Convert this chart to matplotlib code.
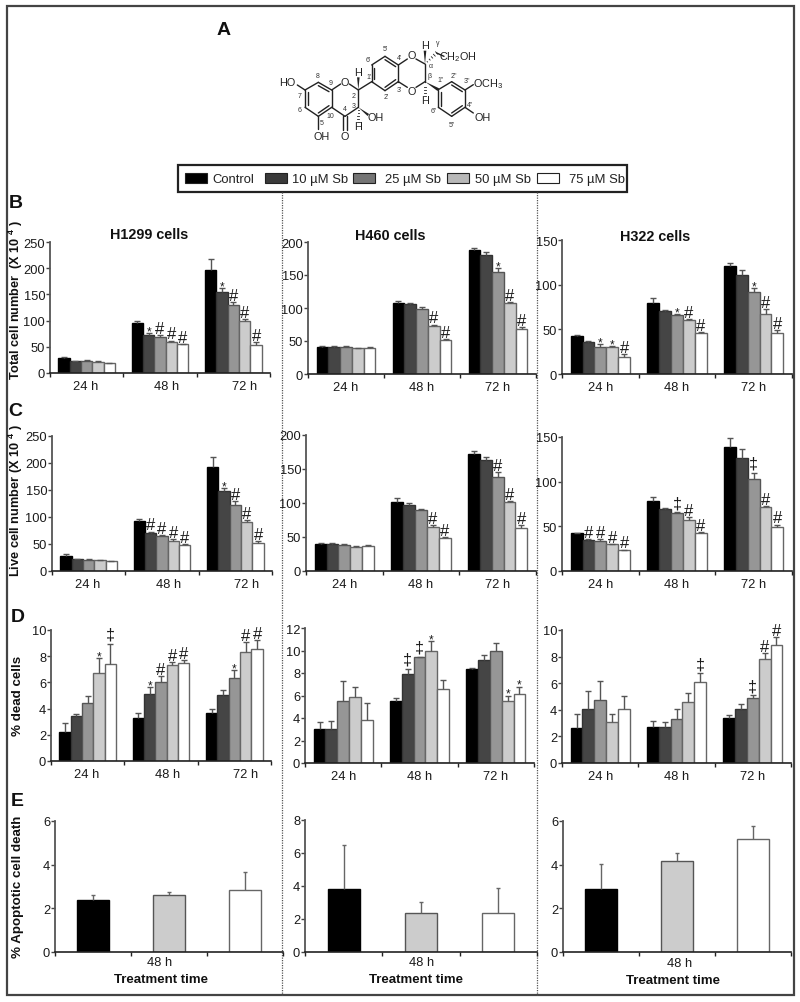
import matplotlib
matplotlib.use('Agg')
from matplotlib import pyplot as plt
from matplotlib.patches import Rectangle, Polygon

plt.rcParams['font.family'] = ['Liberation Sans', 'DejaVu Sans']
plt.rcParams['mathtext.fontset'] = 'custom'
plt.rcParams['mathtext.bf'] = 'Liberation Sans:bold'
plt.rcParams['mathtext.rm'] = 'Liberation Sans'
plt.rcParams['mathtext.default'] = 'regular'

W, H = 800, 1003

times = ['24 h', '48 h', '72 h']
doses = ['Control', '10 µM Sb', '25 µM Sb', '50 µM Sb', '75 µM Sb']
cells = ['H1299 cells', 'H460 cells', 'H322 cells']

# panel B, total cell number
b1_mean = [29, 22, 23, 21, 19, 95, 73, 69, 60, 55, 197, 155, 130, 99, 54]
b1_err = [1, 1, 1, 1, 1, 5, 4, 3, 2, 1, 20, 7, 6, 4, 5]
b1_mark = ['', '', '', '', '', '', '*', '#', '#', '#', '', '*', '#', '#', '#']
b2_mean = [41, 41, 41, 39, 39, 107, 106, 99, 73, 52, 188, 180, 154, 107, 68]
b2_err = [1, 1, 1, 1, 2, 4, 2, 2, 2, 1, 3, 5.5, 6, 1.5, 3]
b2_mark = ['', '', '', '', '', '', '', '', '#', '#', '', '', '*', '#', '#']
b3_mean = [43, 36, 30, 30, 19, 80, 70, 66, 60, 46, 121, 111, 92, 67, 46]
b3_err = [1, 1, 4, 1, 3, 5, 2, 1, 2, 1, 3, 5, 4, 5.5, 3]
b3_mark = ['', '', '*', '*', '#', '', '', '*', '#', '#', '', '', '*', '#', '#']

# panel C, live cell number
c1_mean = [27, 22, 21, 20, 18, 93, 70, 64, 56, 49, 192, 148, 123, 91, 51]
c1_err = [4, 1, 2, 1, 1, 3, 3, 2, 3, 1, 20, 5, 6, 4, 4]
c1_mark = ['', '', '', '', '', '', '#', '#', '#', '#', '', '*', '#', '#', '#']
c2_mean = [40, 40, 38, 36, 37, 102, 97, 89, 65, 48, 172, 163, 138, 101, 63]
c2_err = [1, 1, 1, 1, 1, 5, 2.5, 1.5, 3, 1.5, 4, 4.5, 7, 1.5, 4]
c2_mark = ['', '', '', '', '', '', '', '', '#', '#', '', '', '#', '#', '#']
c3_mean = [42, 35, 34, 30, 23, 78, 69, 65, 57, 43, 139, 126, 103, 72, 49]
c3_err = [1, 1, 2, 0.5, 1, 5, 1, 0.5, 3, 0.7, 10, 11, 7, 1, 3]
c3_mark = ['', '#', '#', '#', '#', '', '', '‡', '#', '#', '', '', '‡', '#', '#']

# panel D, % dead cells
d1_mean = [2.2, 3.4, 4.4, 6.7, 7.4, 3.3, 5.1, 6.0, 7.3, 7.5, 3.65, 5.05, 6.35, 8.35, 8.55]
d1_err = [0.7, 0.2, 0.55, 1.15, 1.55, 0.4, 0.55, 0.5, 0.25, 0.2, 0.35, 0.4, 0.6, 0.7, 0.7]
d1_mark = ['', '', '', '*', '‡', '', '*', '#', '#', '#', '', '', '*', '#', '#']
d2_mean = [3.05, 3.05, 5.55, 5.85, 3.8, 5.5, 7.9, 9.4, 9.95, 6.55, 8.35, 9.15, 10.0, 5.55, 6.15]
d2_err = [0.6, 0.65, 1.7, 0.9, 1.55, 0.25, 0.5, 0.05, 0.9, 0.8, 0.1, 0.45, 0.7, 0.45, 0.65]
d2_mark = ['', '', '', '', '', '', '‡', '‡', '*', '', '', '', '', '*', '*']
d3_mean = [2.6, 4.08, 4.7, 3.05, 4.08, 2.68, 2.68, 3.28, 4.56, 6.1, 3.38, 4.08, 4.9, 7.8, 8.85]
d3_err = [1.1, 1.3, 1.5, 0.6, 0.95, 0.47, 0.37, 0.8, 0.7, 0.65, 0.2, 0.33, 0.2, 0.5, 0.6]
d3_mark = ['', '', '', '', '', '', '', '', '', '‡', '', '', '‡', '#', '#']

# panel E, % apoptotic cell death at 48 h
e1_mean = [2.36, 2.6, 2.85]
e1_err = [0.24, 0.14, 0.8]
e2_mean = [3.8, 2.36, 2.36]
e2_err = [2.7, 0.66, 1.5]
e3_mean = [2.9, 4.15, 5.18]
e3_err = [1.12, 0.37, 0.58]

bar_colors = ['#000000', '#454545', '#969696', '#cccccc', '#ffffff']
edge_colors = ['#000000', '#333333', '#555555', '#666666', '#666666']
swatch_colors = ['#000000', '#3a3a3a', '#757575', '#b8b8b8', '#ffffff']
e_colors = ['#000000', '#cccccc', '#ffffff']
e_edges = ['#000000', '#555555', '#666666']

fig = plt.figure(figsize=(8, 10.03), dpi=100, facecolor='white')


def make_axes(left, right, top, bottom, ymax, step):
    # box given in image pixels
    ax = fig.add_axes([left / W, 1 - bottom / H, (right - left) / W, (bottom - top) / H])
    ax.patch.set_alpha(0)
    ax.set_xlim(0, 3)
    ax.set_ylim(0, ymax)
    ax.set_yticks(range(0, ymax + 1, step))
    ax.set_xticks([0, 1, 2, 3])
    ax.set_xticklabels([])
    ax.spines['top'].set_visible(False)
    ax.spines['right'].set_visible(False)
    ax.spines['left'].set_color('#555555')
    ax.spines['left'].set_linewidth(1.3)
    ax.spines['bottom'].set_color('#222222')
    ax.spines['bottom'].set_linewidth(1.2)
    ax.tick_params(axis='y', length=3, width=1, pad=0.5, labelsize=9.3, color='#444444', labelcolor='#1a1a1a')
    ax.tick_params(axis='x', length=3, width=1, color='#222222')
    return ax


def upper_error(ax, x, y, e, color, cap):
    # only the top cap, the lower one would sit on the bar
    _, caps, _ = ax.errorbar(x, y, yerr=[[0], [e]], color=color, elinewidth=1, capsize=cap, capthick=1)
    caps[0].set_visible(False)


def group_panel(box, ymax, step, means, errs, marks, label_x):
    ax = make_axes(*box, ymax, step)
    w = 0.155
    for g in range(3):
        for i in range(5):
            k = g * 5 + i
            x = g + 0.5 + (i - 2) * w
            ax.bar(x, means[k], w, color=bar_colors[i], edgecolor=edge_colors[i], linewidth=1)
            upper_error(ax, x, means[k], errs[k], '#555555', 2)
            top = means[k] + errs[k]
            if marks[k] == '#':
                ax.annotate('#', (x, top), xytext=(0, 1.5), textcoords='offset points',
                            ha='center', va='baseline', fontsize=12, color='#1a1a1a')
            elif marks[k] == '*':
                ax.annotate('*', (x, top), xytext=(0, -1), textcoords='offset points',
                            ha='center', va='baseline', fontsize=8.5, color='#1a1a1a')
            elif marks[k] == '‡':
                ax.annotate('‡', (x, top), xytext=(0, 3.5), textcoords='offset points',
                            ha='center', va='baseline', fontsize=11.5, color='#1a1a1a')
    for x, t in zip(label_x, times):
        ax.annotate(t, (x, 0), xytext=(0, -9.5), textcoords='offset points',
                    ha='center', va='center', fontsize=9.3, color='#1a1a1a')
    return ax


def single_panel(box, ymax, step, means, errs):
    ax = make_axes(*box, ymax, step)
    for i in range(3):
        ax.bar(i + 0.5, means[i], 0.415, color=e_colors[i], edgecolor=e_edges[i], linewidth=1)
        upper_error(ax, i + 0.5, means[i], errs[i], '#666666', 1.5)
    return ax


left_x = [0.48, 1.59, 2.65]
mid_x = [0.5, 1.5, 2.5]

group_panel((50, 270, 243, 374), 250, 50, b1_mean, b1_err, b1_mark, left_x)
group_panel((308, 536, 243, 375), 200, 50, b2_mean, b2_err, b2_mark, mid_x)
group_panel((562, 792, 241, 375), 150, 50, b3_mean, b3_err, b3_mark, mid_x)
group_panel((52, 272, 437, 572), 250, 50, c1_mean, c1_err, c1_mark, left_x)
group_panel((306, 536, 436, 572), 200, 50, c2_mean, c2_err, c2_mark, mid_x)
group_panel((562, 792, 438, 572), 150, 50, c3_mean, c3_err, c3_mark, mid_x)
group_panel((51, 271, 631, 762), 10, 2, d1_mean, d1_err, d1_mark, left_x)
group_panel((305, 534, 629, 764), 12, 2, d2_mean, d2_err, d2_mark, mid_x)
group_panel((562, 791, 631, 764), 10, 2, d3_mean, d3_err, d3_mark, mid_x)
single_panel((55, 283, 822, 953), 6, 2, e1_mean, e1_err)
single_panel((305, 537, 821, 953), 8, 2, e2_mean, e2_err)
single_panel((563, 791, 822, 953), 6, 2, e3_mean, e3_err)

# everything else sits on one full figure layer in image pixels
page = fig.add_axes([0, 0, 1, 1], zorder=-1)
page.set_xlim(0, W)
page.set_ylim(H, 0)
page.axis('off')

page.add_patch(Rectangle((7, 6.5), 787, 989.5, fill=False, edgecolor='#444444', linewidth=1.6))
for x in [281.7, 536.8]:
    page.plot([x, x], [193, 996], color='#555555', linewidth=0.9, linestyle=(0, (1, 1)))

# legend box
page.add_patch(Rectangle((178, 166), 449, 27, facecolor='white', edgecolor='#222222', linewidth=1.6))
swatch_x = [185, 265, 353, 447, 537]
text_x = [212, 292, 385, 475, 569]
for i in range(5):
    page.add_patch(Rectangle((swatch_x[i], 174), 22, 10, facecolor=swatch_colors[i],
                             edgecolor='#222222', linewidth=0.8))
    page.text(text_x[i], 179.5, doses[i], fontsize=9.4, va='center', color='#222222')

# panel letters
for s, x, y in [('A', 224, 30), ('B', 16, 203), ('C', 15, 412), ('D', 18, 618), ('E', 17, 802)]:
    page.text(x, y, s, fontsize=14, fontweight='bold', ha='center', va='center', color='#111111')

# cell line titles
for s, x, y in zip(cells, [149, 390, 655], [235, 236, 237]):
    page.text(x, y, s, fontsize=10.4, fontweight='bold', ha='center', va='center', color='#111111')

# y axis titles
sup = r'$\mathbf{^{4}}$'
page.text(16, 300, 'Total cell number  (X 10 ' + sup + ' )', rotation=90, fontsize=9.1, fontweight='bold',
          ha='center', va='center', color='#111111')
page.text(16, 501, 'Live cell number (X 10 ' + sup + ' )', rotation=90, fontsize=9.2, fontweight='bold',
          ha='center', va='center', color='#111111')
page.text(18, 696, '% dead cells', rotation=90, fontsize=9.6, fontweight='bold',
          ha='center', va='center', color='#111111')
page.text(18, 887, '% Apoptotic cell death', rotation=90, fontsize=9.6, fontweight='bold',
          ha='center', va='center', color='#111111')

# panel E x labels
for x1, x2, y1, y2 in [(160, 161, 963, 980), (422, 416, 963, 980), (680, 673, 964, 981)]:
    page.text(x1, y1, '48 h', fontsize=9.3, ha='center', va='center', color='#1a1a1a')
    page.text(x2, y2, 'Treatment time', fontsize=9.5, fontweight='bold', ha='center', va='center', color='#111111')


# structure of silibinin, coordinates in its own crop
def sx(x):
    return 270 + x / 3


def sy(y):
    return 40 + y / 3


bonds = [
    (145, 130, 185, 153), (185, 153, 185, 205), (185, 205, 145, 232), (145, 232, 105, 205),
    (105, 205, 105, 153), (105, 153, 145, 130), (185, 153, 212, 135), (238, 135, 265, 153),
    (265, 153, 265, 205), (265, 205, 225, 232), (225, 232, 185, 205), (145, 232, 145, 270),
    (105, 153, 82, 138), (305, 128, 305, 78), (305, 78, 345, 52), (345, 52, 385, 78),
    (385, 78, 385, 128), (385, 128, 345, 155), (345, 155, 305, 128), (385, 78, 412, 60),
    (438, 60, 465, 75), (465, 75, 465, 128), (465, 128, 438, 145), (412, 145, 385, 128),
    (500, 42, 522, 52), (505, 152, 545, 128), (545, 128, 585, 153), (585, 153, 585, 205),
    (585, 205, 545, 232), (545, 232, 505, 205), (505, 205, 505, 152), (585, 153, 610, 137),
    (585, 205, 610, 222), (220, 232, 220, 272), (230, 232, 230, 272), (113, 198, 113, 160),
    (145, 140, 177, 158), (177, 200, 145, 222), (313, 120, 313, 86), (345, 62, 377, 83),
    (377, 122, 345, 145), (513, 200, 513, 160), (545, 138, 577, 158), (577, 200, 545, 222),
    (265, 153, 305, 128),
]
for x0, y0, x1, y1 in bonds:
    page.plot([sx(x0), sx(x1)], [sy(y0), sy(y1)], color='#222222', linewidth=1, solid_capstyle='round')

wedges = [(265, 153, 265, 115), (265, 205, 295, 228), (465, 75, 465, 35), (465, 128, 505, 152)]
for x0, y0, x1, y1 in wedges:
    dx, dy = (y1 - y0) * 0.1, (x0 - x1) * 0.1
    page.add_patch(Polygon([(sx(x0), sy(y0)), (sx(x1 + dx), sy(y1 + dy)), (sx(x1 - dx), sy(y1 - dy))],
                           facecolor='#222222', edgecolor='none'))

hashes = [(265, 205, 265, 248), (465, 128, 465, 170), (465, 75, 500, 42)]
for x0, y0, x1, y1 in hashes:
    for n in range(1, 6):
        t = n / 5
        xm, ym = x0 + (x1 - x0) * t, y0 + (y1 - y0) * t
        dx, dy = (y1 - y0) * 0.1 * t, (x0 - x1) * 0.1 * t
        page.plot([sx(xm - dx), sx(xm + dx)], [sy(ym - dy), sy(ym + dy)], color='#222222', linewidth=0.6)

atoms = [
    ('HO', 52, 128), ('O', 225, 128), ('H', 265, 100), ('OH', 318, 235), ('H', 265, 262),
    ('O', 225, 290), ('OH', 155, 290), ('O', 425, 48), ('O', 425, 155), ('H', 465, 18),
    ('H', 465, 183), ('CH$_2$OH', 565, 50), ('OCH$_3$', 655, 133), ('OH', 637, 235),
]
for s, x, y in atoms:
    page.text(sx(x), sy(y), s, fontsize=7.8, ha='center', va='center', color='#222222')

numbers = [
    ('8', 143, 108), ('9', 182, 130), ('7', 88, 170), ('6', 90, 212), ('5', 155, 250), ('10', 182, 228),
    ('4', 225, 208), ('3', 252, 198), ('2', 252, 170), ("1'", 296, 112), ("6'", 294, 60), ("5'", 345, 28),
    ("4'", 388, 55), ("3'", 388, 150), ("2'", 348, 172), ('α', 482, 80), ('β', 480, 108), ('γ', 502, 10),
    ('1"', 512, 122), ('2"', 552, 108), ('3"', 592, 125), ('4"', 600, 195), ('5"', 545, 255), ('6"', 492, 215),
]
for s, x, y in numbers:
    page.text(sx(x), sy(y), s, fontsize=5, ha='center', va='center', color='#333333')

plt.savefig('out.png', dpi=100)
